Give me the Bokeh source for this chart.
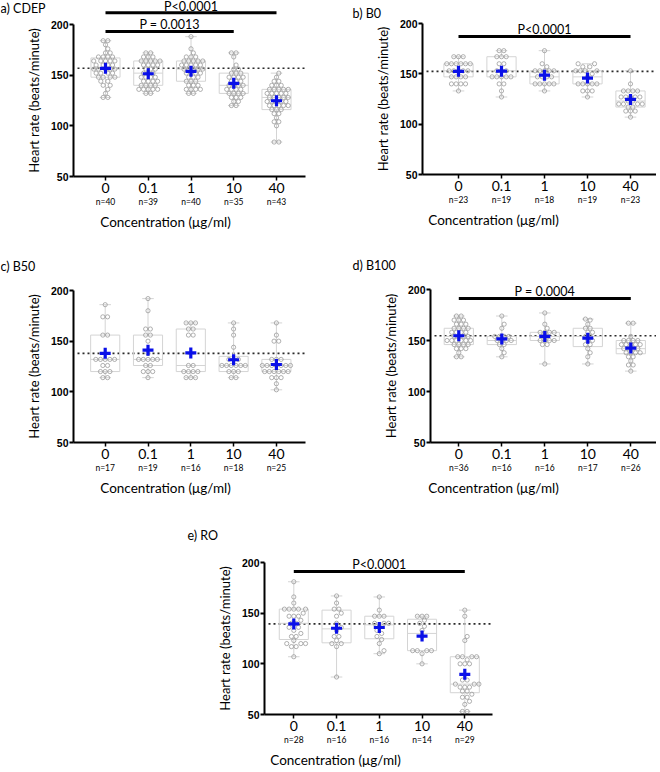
import numpy as np
from bokeh.plotting import figure
from bokeh.models import Range1d, FixedTicker, LinearAxis, Label, Spacer, ColumnDataSource
from bokeh.layouts import column, row
from bokeh.embed import file_html
from bokeh.resources import INLINE

# ---------------- data ----------------
CONC = ["0", "0.1", "1", "10", "40"]
Y_TICKS = [50, 100, 150, 200]

CDEP_0 = [184, 184, 180, 176, 172, 172, 168, 168, 168, 168, 164, 164, 164, 164, 164, 160, 160, 160, 160, 156,
          156, 156, 156, 156, 152, 152, 152, 152, 148, 148, 148, 148, 144, 144, 140, 140, 136, 132, 128, 128]
CDEP_01 = [172, 172, 168, 168, 168, 164, 164, 164, 164, 164, 160, 160, 160, 160, 156, 156, 156, 152, 152, 152,
           148, 148, 148, 148, 144, 144, 144, 144, 140, 140, 140, 140, 136, 136, 136, 136, 136, 132, 132]
CDEP_1 = [188, 176, 172, 168, 168, 168, 164, 164, 164, 164, 164, 160, 160, 160, 160, 160, 156, 156, 156, 156,
          156, 152, 152, 152, 152, 148, 148, 148, 144, 144, 144, 140, 140, 140, 136, 136, 136, 136, 132, 132]
CDEP_10 = [172, 172, 168, 160, 156, 156, 152, 152, 152, 148, 148, 148, 148, 144, 144, 144, 140, 140, 140, 140,
           136, 136, 136, 136, 132, 132, 132, 132, 128, 128, 128, 124, 124, 120, 120]
CDEP_40 = [152, 148, 144, 144, 140, 140, 140, 136, 136, 136, 136, 136, 132, 132, 132, 132, 132, 128, 128, 128,
           128, 128, 124, 124, 124, 124, 124, 120, 120, 120, 120, 120, 116, 116, 116, 112, 112, 108, 104, 104,
           100, 84, 84]

B0_0 = [167, 167, 167, 160, 160, 160, 160, 160, 160, 153, 153, 153, 153, 153, 147, 147, 147, 147, 140, 140,
        140, 140, 133]
B0_01 = [173, 173, 167, 167, 167, 160, 160, 153, 153, 153, 147, 147, 147, 147, 147, 140, 140, 133, 127]
B0_1 = [173, 160, 157, 153, 153, 153, 153, 153, 147, 147, 147, 147, 140, 140, 140, 140, 140, 133]
B0_10 = [160, 160, 157, 157, 153, 153, 153, 153, 150, 147, 140, 140, 140, 140, 140, 133, 133, 133, 127]
B0_40 = [153, 140, 133, 133, 133, 133, 127, 127, 127, 127, 127, 123, 123, 120, 120, 120, 120, 117, 117, 113,
         113, 113, 107]

B50_0 = [186, 174, 174, 156, 156, 132, 132, 132, 132, 132, 126, 126, 120, 120, 120, 114, 114]
B50_01 = [192, 180, 162, 162, 156, 156, 150, 138, 132, 132, 132, 132, 132, 126, 126, 120, 120, 120, 114]
B50_1 = [168, 168, 168, 162, 162, 156, 156, 126, 126, 120, 120, 120, 120, 114, 114, 114]
B50_10 = [168, 162, 156, 144, 132, 132, 132, 126, 126, 126, 126, 126, 126, 120, 120, 120, 114, 114]
B50_40 = [168, 156, 150, 150, 132, 132, 132, 126, 126, 126, 126, 126, 126, 126, 120, 120, 120, 120, 120, 120,
          114, 114, 114, 108, 102]

B100_0 = [174, 174, 170, 170, 170, 166, 166, 166, 162, 162, 162, 162, 158, 158, 158, 158, 154, 154, 154, 154,
          150, 150, 150, 150, 150, 150, 146, 146, 146, 146, 142, 142, 142, 138, 134, 134]
B100_01 = [174, 166, 162, 154, 154, 154, 154, 150, 150, 150, 150, 146, 146, 142, 138, 134]
B100_1 = [177, 166, 162, 158, 158, 158, 158, 154, 154, 150, 150, 150, 150, 146, 146, 127]
B100_10 = [171, 170, 166, 162, 162, 158, 158, 154, 154, 150, 150, 146, 146, 142, 138, 134, 127]
B100_40 = [167, 167, 154, 150, 150, 150, 150, 146, 146, 146, 146, 146, 142, 142, 142, 142, 138, 138, 138, 138,
           134, 134, 130, 126, 126, 120]

RO_0 = [181, 166, 160, 154, 154, 154, 154, 154, 150, 147, 147, 147, 143, 140, 140, 136, 136, 133, 130, 127,
        127, 123, 120, 120, 120, 117, 117, 107]
RO_01 = [167, 160, 154, 154, 150, 147, 140, 136, 133, 127, 127, 123, 120, 120, 117, 87]
RO_1 = [166, 153, 147, 147, 147, 140, 140, 140, 137, 133, 130, 127, 124, 120, 113, 110]
RO_10 = [147, 147, 147, 143, 140, 137, 133, 127, 113, 113, 113, 113, 110, 100]
RO_40 = [153, 147, 127, 123, 107, 107, 107, 107, 104, 100, 100, 100, 84, 84, 80, 80, 80, 77, 77, 77,
         73, 73, 70, 67, 67, 63, 60, 53, 53]

# significance bars: (from group, to group, label)
SIG_A = [(0, 4, "P<0.0001"), (0, 3, "P = 0.0013")]
SIG_B = [(0, 4, "P<0.0001")]
SIG_D = [(0, 4, "P = 0.0004")]
SIG_E = [(0, 4, "P<0.0001")]

# ---------------- styles / layout (page pixels) ----------------
FONT = "Lato"
NUM_FONT = "Liberation Sans"
POINT_COLOR = "#959595"
BOX_COLOR = "#d4d4d4"
MEAN_COLOR = "#0a10e8"

LAY_A = dict(fig_left=0, fig_right=330, fig_top=0, fig_bottom=250, axis_x=73, axis_right=305,
             y200=24, y50=176, cx0=105.0, cdx=42.75, title_x=0, title_y=7.5, bars=[12.3, 31])
LAY_B = dict(fig_left=330, fig_right=656, fig_top=0, fig_bottom=250, axis_x=422, axis_right=656,
             y200=23, y50=174, cx0=458.0, cdx=43.0, title_x=352, title_y=13, bars=[36])
LAY_C = dict(fig_left=0, fig_right=330, fig_top=250, fig_bottom=505, axis_x=73, axis_right=305,
             y200=290, y50=442, cx0=104.7, cdx=42.8, title_x=0, title_y=266, bars=[])
LAY_D = dict(fig_left=330, fig_right=656, fig_top=250, fig_bottom=505, axis_x=430, axis_right=656,
             y200=289, y50=442, cx0=458.3, cdx=43.0, title_x=352, title_y=265, bars=[298])
LAY_E = dict(fig_left=160, fig_right=510, fig_top=505, fig_bottom=771, axis_x=264, axis_right=492,
             y200=562, y50=714, cx0=293.3, cdx=42.75, title_x=187, title_y=535, bars=[571])


def swarm_offsets(vals, pxu_y, d):
    vals = np.asarray(vals, dtype=float)
    order = np.argsort(vals, kind="stable")
    counts = {v: int((vals == v).sum()) for v in np.unique(vals)}
    placed = []
    offs = np.zeros(len(vals))
    for idx in order:
        v = vals[idx]
        y = v * pxu_y
        cands = [d / 2, -d / 2, 0.0] if counts[v] % 2 == 0 else [0.0]
        for k in range(1, 30):
            for c in (k * d / 2, -k * d / 2):
                if c not in cands:
                    cands.append(c)
        for c in cands:
            if all((c - px) ** 2 + (y - py) ** 2 >= (d * 0.97) ** 2 for px, py in placed):
                break
        placed.append((c, y))
        offs[idx] = c
    return offs


def make_panel(title, groups, L, sig):
    pxu = (L["y50"] - L["y200"]) / 150.0

    def X(px):
        return (px - L["cx0"]) / L["cdx"]

    def Y(py):
        return 50 + (L["y50"] - py) / pxu

    fw = L["fig_right"] - L["fig_left"]
    fh = L["fig_bottom"] - L["fig_top"]
    p = figure(frame_width=fw, frame_height=fh,
               x_range=Range1d(X(L["fig_left"]), X(L["fig_right"])),
               y_range=Range1d(Y(L["fig_bottom"]), Y(L["fig_top"])),
               min_border=0, min_border_left=0, min_border_right=0,
               min_border_top=0, min_border_bottom=0,
               x_axis_location=None, y_axis_location=None,
               output_backend="svg", toolbar_location=None, tools="", title=None)
    p.outline_line_color = None
    p.xgrid.visible = False
    p.ygrid.visible = False

    ax_x = X(L["axis_x"])
    x_right = X(L["axis_right"])
    ticks = list(range(len(CONC)))

    # y axis
    ya = LinearAxis(fixed_location=ax_x, ticker=FixedTicker(ticks=Y_TICKS), bounds=(50, 200))
    ya.minor_tick_line_color = None
    ya.axis_line_width = 2
    ya.axis_line_color = "black"
    ya.major_tick_line_width = 2
    ya.major_tick_line_color = "black"
    ya.major_tick_out = 4
    ya.major_tick_in = 0
    ya.major_label_standoff = 1
    ya.major_label_text_font = NUM_FONT
    ya.major_label_text_font_style = "bold"
    ya.major_label_text_font_size = "10.5px"
    ya.major_label_text_color = "black"
    ya.axis_label = "Heart rate (beats/minute)"
    ya.axis_label_text_font = FONT
    ya.axis_label_text_font_style = "normal"
    ya.axis_label_text_font_size = "13px"
    ya.axis_label_text_color = "black"
    ya.axis_label_standoff = 6
    p.add_layout(ya, "left")

    # x axis (concentrations)
    xa = LinearAxis(fixed_location=50, ticker=FixedTicker(ticks=ticks), bounds=(ax_x, x_right),
                    major_label_overrides={i: c for i, c in enumerate(CONC)})
    xa.minor_tick_line_color = None
    xa.axis_line_width = 2
    xa.axis_line_color = "black"
    xa.major_tick_line_width = 1.5
    xa.major_tick_line_color = "black"
    xa.major_tick_out = 4
    xa.major_tick_in = 0
    xa.major_label_standoff = 2
    xa.major_label_text_font = FONT
    xa.major_label_text_font_size = "14px"
    xa.major_label_text_color = "black"
    p.add_layout(xa, "below")

    # second x axis: group sizes + title
    na = LinearAxis(fixed_location=50, ticker=FixedTicker(ticks=ticks),
                    major_label_overrides={i: "n=%d" % len(g) for i, g in enumerate(groups)})
    na.axis_line_color = None
    na.major_tick_line_color = None
    na.minor_tick_line_color = None
    na.major_tick_out = 0
    na.major_tick_in = 0
    na.major_label_standoff = 20
    na.major_label_text_font = FONT
    na.major_label_text_font_size = "8.5px"
    na.major_label_text_color = "black"
    na.axis_label = "Concentration (\u03bcg/ml)"
    na.axis_label_text_font = FONT
    na.axis_label_text_font_style = "normal"
    na.axis_label_text_font_size = "13.5px"
    na.axis_label_text_color = "black"
    na.axis_label_standoff = 4
    p.add_layout(na, "below")

    # boxes
    bw, cw = 0.68, 0.27
    q1s, meds, q3s, mins, maxs, means = [], [], [], [], [], []
    for g in groups:
        a = np.asarray(g, dtype=float)
        q1s.append(np.percentile(a, 25, method="weibull"))
        meds.append(np.percentile(a, 50, method="weibull"))
        q3s.append(np.percentile(a, 75, method="weibull"))
        mins.append(a.min())
        maxs.append(a.max())
        means.append(a.mean())
    xs = np.array(ticks, dtype=float)

    # dotted reference line at the control mean
    p.segment(x0=[ax_x + 4 / L["cdx"]], x1=[x_right], y0=[means[0]], y1=[means[0]],
              line_dash="2 3", line_color="#2a2a2a", line_width=1.6)

    p.quad(left=xs - bw / 2, right=xs + bw / 2, bottom=q1s, top=q3s, fill_color=None,
           line_color=BOX_COLOR, line_width=1)
    p.segment(x0=xs - bw / 2, x1=xs + bw / 2, y0=meds, y1=meds, line_color=BOX_COLOR, line_width=1)
    p.segment(x0=xs, x1=xs, y0=q3s, y1=maxs, line_color=BOX_COLOR, line_width=1)
    p.segment(x0=xs, x1=xs, y0=q1s, y1=mins, line_color=BOX_COLOR, line_width=1)
    p.segment(x0=xs - cw / 2, x1=xs + cw / 2, y0=maxs, y1=maxs, line_color=BOX_COLOR, line_width=1)
    p.segment(x0=xs - cw / 2, x1=xs + cw / 2, y0=mins, y1=mins, line_color=BOX_COLOR, line_width=1)

    # points (beeswarm)
    px_x, px_y = [], []
    for i, g in enumerate(groups):
        offs = swarm_offsets(g, pxu, 4.7)
        px_x.extend(list(i + offs / L["cdx"]))
        px_y.extend(list(g))
    src = ColumnDataSource(dict(x=px_x, y=px_y))
    p.scatter(x="x", y="y", source=src, marker="circle", size=4.2, fill_color="white", fill_alpha=0.0,
              line_color=POINT_COLOR, line_width=0.75)

    # means
    p.scatter(x=xs, y=means, marker="cross", size=11, line_width=3.2, line_color=MEAN_COLOR)

    # significance bars
    for (i, j, txt), by in zip(sig, L["bars"]):
        yb = Y(by)
        p.segment(x0=[i], x1=[j], y0=[yb], y1=[yb], line_color="black", line_width=3)
        p.add_layout(Label(x=(i + j) / 2, y=Y(by - 6.8), text=txt, text_align="center",
                           text_baseline="middle", text_font=FONT, text_font_size="12.5px",
                           text_color="black"))

    # panel title
    p.add_layout(Label(x=X(L["title_x"]), y=Y(L["title_y"]), text=title, text_align="left",
                       text_baseline="middle", text_font=FONT, text_font_size="12.5px", text_color="black"))
    return p


pa = make_panel("a) CDEP", [CDEP_0, CDEP_01, CDEP_1, CDEP_10, CDEP_40], LAY_A, SIG_A)
pb = make_panel("b) B0", [B0_0, B0_01, B0_1, B0_10, B0_40], LAY_B, SIG_B)
pc = make_panel("c) B50", [B50_0, B50_01, B50_1, B50_10, B50_40], LAY_C, [])
pd_ = make_panel("d) B100", [B100_0, B100_01, B100_1, B100_10, B100_40], LAY_D, SIG_D)
pe = make_panel("e) RO", [RO_0, RO_01, RO_1, RO_10, RO_40], LAY_E, SIG_E)

layout = column(row(pa, pb), row(pc, pd_),
                row(Spacer(width=LAY_E["fig_left"], height=10), pe))

open("out.html", "w").write(file_html(layout, INLINE))
